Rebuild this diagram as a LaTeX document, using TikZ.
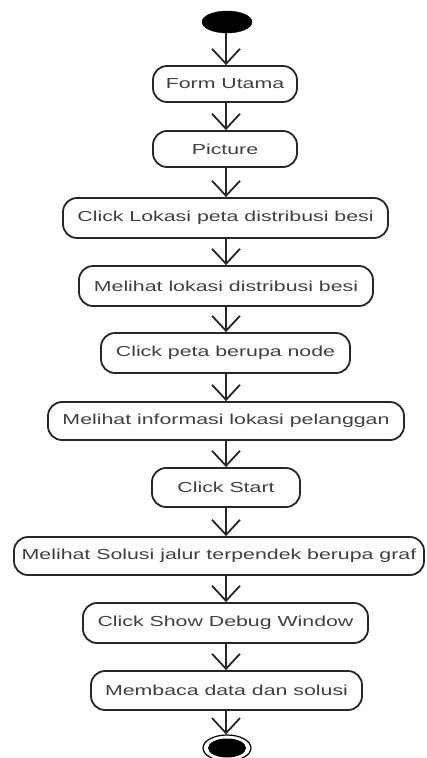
\documentclass[tikz,border=0pt]{standalone}
\usepackage{fontspec}
\setmainfont{Liberation Sans}[FakeStretch=1.47]
\usetikzlibrary{arrows.meta,shapes.geometric}

\tikzset{
  act/.style={draw=black!85, line width=1.8pt, rounded corners=14pt,
    inner sep=0pt, align=center, text=black!75,
    font=\fontsize{14.5}{17}\selectfont},
  flow/.style={draw=black!85, line width=1.8pt,
    -{Straight Barb[length=15pt, width=28pt, line width=1.8pt]}},
}

% node of given left/right/top/bottom pixel box
\newcommand{\actnode}[6]{%
  \node[act, minimum width=#4-#3, minimum height=#6-#5]
    (#1) at ({(#3+#4)/2}, {-(#5+#6)/2}) {#2};}

\begin{document}
\begin{tikzpicture}[x=1pt, y=1pt]
  \useasboundingbox (0,0) rectangle (427,-758);
  \coordinate (axis) at (226,0);

  % initial state
  \node[draw=black, fill=black, ellipse, minimum width=50pt, minimum height=22pt,
        inner sep=0pt] (start) at (227,-22) {};

  \actnode{a1}{Form Utama}{153}{297}{66}{102}
  \actnode{a2}{Picture}{153}{297}{131}{167}
  \actnode{a3}{Click Lokasi peta distribusi besi}{63}{388}{198}{238}
  \actnode{a4}{Melihat lokasi distribusi besi}{79}{373}{266}{306}
  \actnode{a5}{Click peta berupa node}{101}{350}{333}{373}
  \actnode{a6}{Melihat informasi lokasi pelanggan}{48}{404}{402}{440}
  \actnode{a7}{Click Start}{152}{300}{468}{507}
  \actnode{a8}{Melihat Solusi jalur terpendek berupa graf}{14}{424}{537}{575}
  \actnode{a9}{Click Show Debug Window}{83}{368}{603}{643}
  \actnode{a10}{Membaca data dan solusi}{91}{362}{671}{710}

  % final state
  \node[draw=black, line width=1.2pt, ellipse, minimum width=48pt,
        minimum height=26pt, inner sep=0pt] (end) at (227,-748) {};
  \node[fill=black, ellipse, minimum width=38pt, minimum height=19pt,
        inner sep=0pt] (endcore) at (227,-748) {};

  % control flow
  \draw[flow] (start.south -| axis) -- (a1.north -| axis);
  \draw[flow] (a1.south -| axis) -- (a2.north -| axis);
  \draw[flow] (a2.south -| axis) -- (a3.north -| axis);
  \draw[flow] (a3.south -| axis) -- (a4.north -| axis);
  \draw[flow] (a4.south -| axis) -- (a5.north -| axis);
  \draw[flow] (a5.south -| axis) -- (a6.north -| axis);
  \draw[flow] (a6.south -| axis) -- (a7.north -| axis);
  \draw[flow] (a7.south -| axis) -- (a8.north -| axis);
  \draw[flow] (a8.south -| axis) -- (a9.north -| axis);
  \draw[flow] (a9.south -| axis) -- (a10.north -| axis);
  \draw[flow] (a10.south -| axis) -- (end.north -| axis);
\end{tikzpicture}
\end{document}
